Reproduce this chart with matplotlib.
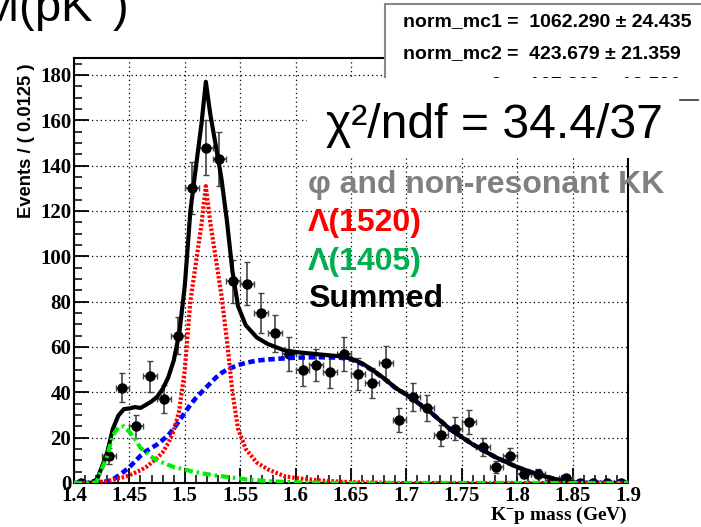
import numpy as np
import matplotlib.pyplot as plt
from matplotlib.patches import Rectangle
from matplotlib.lines import Line2D
from matplotlib.ticker import MultipleLocator, FuncFormatter

plt.rcParams['mathtext.fontset'] = 'custom'
plt.rcParams['mathtext.rm'] = 'Liberation Sans'
plt.rcParams['mathtext.it'] = 'Liberation Sans:italic'
plt.rcParams['mathtext.bf'] = 'Liberation Sans:bold'

# K-p invariant mass histogram, 40 bins of 0.0125 GeV from 1.4 to 1.9
bin_lo, bin_width = 1.4, 0.0125
counts = [0, 0, 12, 42, 25, 47, 37, 65, 130, 148,
          143, 89, 88, 75, 66, 57, 50, 52, 49, 57,
          48, 44, 53, 28, 38, 33, 21, 24, 27, 16,
          7, 12, 4, 4, 1, 2, 0, 0, 0, 0]

# fitted components sampled along the mass axis
curve_mass = [1.400, 1.410, 1.415, 1.420, 1.425, 1.430, 1.435, 1.440, 1.445, 1.450,
              1.455, 1.460, 1.465, 1.470, 1.475, 1.480, 1.485, 1.490, 1.495, 1.500,
              1.505, 1.510, 1.515, 1.519, 1.523, 1.528, 1.533, 1.538, 1.543, 1.548,
              1.555, 1.565, 1.575, 1.590, 1.600, 1.620, 1.640, 1.650, 1.660, 1.670,
              1.680, 1.690, 1.700, 1.720, 1.740, 1.760, 1.780, 1.800, 1.820, 1.840,
              1.850, 1.860, 1.900]
lam1520 = [0, 0, 0, 0.3, 0.6, 0.9, 1.3, 2.0, 2.6, 3.4,
           4.5, 5.6, 7.0, 9.0, 11.0, 13.5, 17.5, 23, 32, 50,
           80, 97, 114, 131, 115, 99, 83, 63, 40, 24,
           15, 9, 6, 3, 2.2, 1.2, 0.6, 0.4, 0.3, 0.2,
           0.1, 0, 0, 0, 0, 0, 0, 0, 0, 0,
           0, 0, 0]
lam1405 = [0, 0, 0, 0.2, 6, 12, 21, 24.5, 25, 22.5,
           19.5, 15.5, 13.5, 11.5, 10, 9, 8, 7, 6.5, 6,
           5.3, 4.8, 4.3, 4.0, 3.7, 3.3, 3.0, 2.7, 2.4, 2.1,
           1.6, 1.2, 0.8, 0.5, 0.3, 0.1, 0, 0, 0, 0,
           0, 0, 0, 0, 0, 0, 0, 0, 0, 0,
           0, 0, 0]
phi_kk = [0, 0, 0, 0.1, 0.3, 0.6, 1.5, 3.2, 5, 7,
          9.5, 12, 14, 15.5, 17, 19, 21, 24, 27.5, 31,
          34.5, 37.5, 40, 42, 44, 46.5, 48.5, 50, 51, 52,
          53, 54, 54.5, 55, 55.3, 55.5, 55.3, 54.5, 52.5, 49.5,
          46, 42, 39, 32, 23.5, 17, 11.5, 7, 3.5, 1,
          0.3, 0, 0]

legend_labels = ['φ and non-resonant KK', 'Λ(1520)', 'Λ(1405)', 'Summed']
legend_colors = ['#808080', '#ff0000', '#00b050', '#000000']
norm_lines = ['norm_mc1 =  1062.290 ± 24.435',
              'norm_mc2 =  423.679 ± 21.359',
              'norm_mc3 =  107.808 ± 13.590']

W, H = 701, 527


def fx(px):
    return px / W


def fy(py):
    return 1 - py / H


fig = plt.figure(figsize=(W / 100, H / 100), dpi=100)
ax = fig.add_axes([fx(74), fy(483), (628 - 74) / W, (483 - 58) / H])

centers = bin_lo + bin_width * (np.arange(len(counts)) + 0.5)
counts = np.array(counts, dtype=float)
err_lo = np.sqrt(counts)
err_hi = np.where(counts > 0, np.sqrt(counts), 1.15)

ax.errorbar(centers, counts, xerr=bin_width / 2, yerr=[err_lo, err_hi],
            fmt='o', color='black', ms=6.5, ecolor='#444444', elinewidth=1.2,
            capsize=2, capthick=1, zorder=3)

mass = np.array(curve_mass)
red = np.array(lam1520)
green = np.array(lam1405)
blue = np.array(phi_kk)
total = red + green + blue

ax.plot(mass, blue, color='#0000ff', lw=3.3, dashes=(1.4, 0.8), zorder=4)
ax.plot(mass, total, color='black', lw=3.0, zorder=5)
ax.plot(mass, red, color='#ff0000', lw=3.0, dashes=(0.6, 0.45), zorder=6)
ax.plot(mass, green, color='#00ee00', lw=3.0, dashes=(2.0, 0.9, 0.6, 0.9), zorder=6)

ax.set_xlim(1.4, 1.9)
ax.set_ylim(0, 187.5)
ax.xaxis.set_major_locator(MultipleLocator(0.05))
ax.xaxis.set_minor_locator(MultipleLocator(0.01))
ax.yaxis.set_major_locator(MultipleLocator(20))
ax.yaxis.set_minor_locator(MultipleLocator(5))
ax.xaxis.set_major_formatter(FuncFormatter(lambda v, p: '%g' % round(v, 3)))
ax.grid(True, which='major', color='black', lw=0.9, linestyle=(0, (1, 2.5)))
ax.tick_params(which='major', direction='in', length=11, width=1.3,
               labelsize=15, pad=2, top=False, right=False)
ax.tick_params(which='minor', direction='in', length=5.5, width=1.1,
               top=False, right=False)
for lab in ax.get_xticklabels() + ax.get_yticklabels():
    lab.set_family('Liberation Serif')
    lab.set_weight('bold')
for sp in ax.spines.values():
    sp.set_linewidth(1.5)

fig.text(fx(628), fy(519.5), 'K$^{-}$p mass (GeV)', ha='right', va='baseline',
         fontsize=14, family='Liberation Serif', weight='bold')
fig.text(fx(27), fy(64), 'Events / ( 0.0125 )', rotation=90, ha='center', va='top',
         fontsize=13.2, family='Liberation Sans', weight='bold')

fig.text(fx(-21), fy(21), 'M(pK$^{-}$)', ha='left', va='baseline',
         fontsize=34, family='Liberation Sans')

# parameter box in the top right corner
fig.add_artist(Rectangle((fx(385), fy(110)), fx(330), (110 - 4) / H,
                         transform=fig.transFigure, facecolor='white',
                         edgecolor='#888888', lw=1.5, zorder=2))
for i, line in enumerate(norm_lines):
    fig.text(fx(403), fy(26.5 + 31.5 * i), line, ha='left', va='baseline',
             fontsize=14.0, family='Liberation Sans', weight='bold', zorder=3)

fig.add_artist(Rectangle((fx(307), fy(158)), fx(400), (158 - 78.5) / H,
                         transform=fig.transFigure, facecolor='white',
                         edgecolor='none', zorder=4))
fig.add_artist(Line2D([fx(680), fx(698)], [fy(100), fy(100)],
                      transform=fig.transFigure, color='#333333', lw=1.2, zorder=5))
fig.text(fx(326), fy(138), 'χ²/ndf = 34.4/37', ha='left', va='baseline',
         fontsize=34.7, family='Liberation Sans', zorder=5)

for i, (lab, col) in enumerate(zip(legend_labels, legend_colors)):
    fig.text(fx(308), fy([193, 231, 270, 307][i]), lab, ha='left', va='baseline',
             fontsize=23, family='Liberation Sans', weight='bold', color=col, zorder=5)

fig.savefig('out.png', dpi=100)
